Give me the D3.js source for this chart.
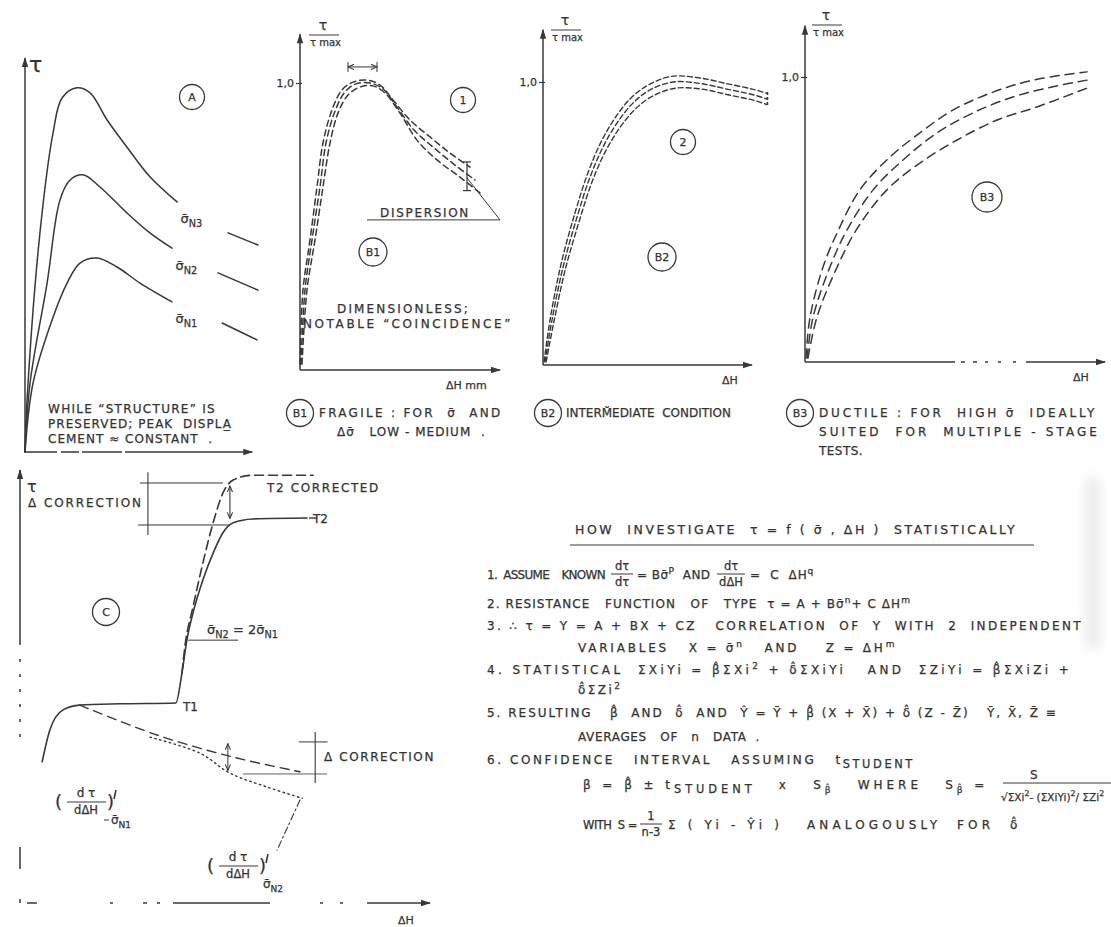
<!DOCTYPE html>
<html>
<head>
<meta charset="utf-8">
<script src="https://cdn.jsdelivr.net/npm/d3@7"></script>
<style>
  html, body { margin: 0; padding: 0; background: #fff; }
  svg { display: block; }
  text { font-family: "DejaVu Sans", "Liberation Sans", sans-serif; fill: #333; stroke: #333; stroke-width: 0.25px; white-space: pre; }
</style>
</head>
<body>
<script>
// ---------------- data ----------------
// Panel A: shear stress τ against displacement ΔH for three normal stresses
const aSigmaN3 = [[0,0],[0.9,13.3],[6.5,55.9],[12.2,81.4],[16.1,90.3],[22.6,92.9],[28.3,91.6],[35.7,84.7],[44.3,77.8],[54.3,70.2],[66.1,63.8]];
const aSigmaN2 = [[0,0],[2.2,17.6],[9.6,43.1],[15.2,64.3],[19.6,69.4],[25.2,70.7],[32.6,67.6],[44.3,61.0],[54.3,55.9],[63.9,52.0]];
const aSigmaN1 = [[0,0],[3.5,17.6],[12.2,34.4],[18.3,43.1],[23.9,48.2],[31.3,49.5],[40,47.2],[50,43.1],[63.9,38.3]];
const aTails = [
  [[88.3,55.9],[101.3,52.8]],
  [[83.9,45.7],[101.3,41.3]],
  [[85.7,32.9],[100.9,28.6]]
];
const aSeriesNames = ["N3", "N2", "N1"];

// Panel B1 (fragile): normalised τ/τmax against ΔH
const b1Upper = [[0,0.02],[1.5,0.279],[5,0.453],[8.5,0.638],[11.5,0.791],[16,0.906],[21,0.976],[26.5,1.003],[33.5,1.01],[40,0.993],[46.5,0.941],[55,0.871],[65,0.812],[75,0.756],[85,0.707]];
const b1Middle = [[0.5,0.02],[2.5,0.279],[6,0.453],[10,0.638],[13,0.791],[17.5,0.902],[22.5,0.969],[28,0.997],[35,1.0],[41.5,0.979],[48.5,0.916],[57,0.836],[67,0.774],[77.5,0.714],[87.5,0.662]];
const b1Lower = [[1,0.02],[3.5,0.279],[7.5,0.453],[11.5,0.638],[15,0.791],[19,0.895],[24,0.958],[30,0.986],[36.5,0.99],[42.5,0.965],[50,0.895],[58.5,0.801],[68.5,0.732],[80,0.672],[90,0.617]];

// Panel B2 (intermediate)
const b2Upper = [[0.5,0.011],[3.5,0.165],[8.6,0.355],[15.2,0.535],[21.4,0.677],[27.5,0.784],[34.2,0.87],[42,0.943],[50.5,0.99],[61.5,1.02],[74.5,1.015],[87.5,0.995],[100,0.975],[107.2,0.96]];
const b2Middle = [[1,0.011],[4.3,0.159],[9.6,0.346],[16.3,0.523],[22.5,0.664],[28.7,0.77],[35.4,0.855],[43.1,0.926],[51.2,0.972],[62.2,1.0],[75.1,0.995],[88,0.975],[100.5,0.955],[107.2,0.94]];
const b2Lower = [[1.5,0.011],[5.2,0.152],[10.6,0.336],[17.4,0.51],[23.6,0.65],[29.9,0.755],[36.7,0.838],[44.4,0.906],[52.4,0.95],[63.2,0.978],[75.8,0.975],[88.5,0.955],[101,0.935],[107.2,0.92]];

// Panel B3 (ductile)
const b3Upper = [[0.3,0.014],[1.7,0.158],[6,0.333],[10.7,0.453],[18.3,0.604],[28.3,0.719],[38.3,0.804],[49.3,0.884],[62.7,0.947],[76,0.989],[94,1.018]];
const b3Middle = [[0.7,0.014],[2.7,0.158],[8.3,0.333],[14,0.463],[22.7,0.604],[32.7,0.709],[44,0.804],[56,0.874],[69.3,0.93],[82.3,0.965],[94,0.989]];
const b3Lower = [[1,0.014],[4,0.158],[10.7,0.333],[17.3,0.467],[27.3,0.604],[38.3,0.698],[50.7,0.779],[64,0.849],[77.3,0.895],[94,0.961]];

const peakTick = [1.0];
const peakTickLabels = ["1,0"];

// Panel C: multiple-stage test, T1 -> T2, and the correction of stage T2
const cMeasured = [[5.4,32.6],[7.3,40.0],[10.5,44.6],[14.6,45.7],[24.4,46.0],[38.0,46.2],[39.5,53.1],[40.7,60.7],[42.2,67.0],[44.6,74.6],[47.1,80.8],[49.5,85.5],[52.0,87.8],[56.8,88.7],[70.0,88.9]];
const cCorrected = [[39.5,53.1],[40.2,59.1],[42.2,68.4],[44.6,78.5],[47.1,87.8],[49.5,94.7],[52.0,97.7],[56.8,98.8],[71.5,98.8]];
const cSlopeN1 = [[14.6,45.7],[33.4,38.8],[52.0,33.7],[68.3,30.3]];
const cSlopeN2 = [[31.7,38.3],[43.9,34.6],[51.2,30.0],[60.2,26.8],[68.8,24.2]];
const cSlopeN2Leader = [[68.3,23.8],[62.7,12.2]];

// Text of the captions and of the statistical procedure
const noteA = ["WHILE \u201CSTRUCTURE\u201D IS", "PRESERVED; PEAK  DISPLA\u0332", "CEMENT \u2248 CONSTANT  ."];
const captionB1 = ["FRAGILE : FOR  \u03C3\u0304  AND", "\u0394\u03C3\u0304   LOW - MEDIUM  ."];
const captionB2 = ["INTERM\u0306EDIATE  CONDITION"];
const captionB3 = ["DUCTILE : FOR  HIGH \u03C3\u0304  IDEALLY", "SUITED  FOR  MULTIPLE - STAGE", "TESTS."];
const methodTitle = "HOW  INVESTIGATE  \u03C4 = f ( \u03C3\u0304 , \u0394H )  STATISTICALLY";
const methodLines = [
  ["2. RESISTANCE   FUNCTION   OF   TYPE  \u03C4 = A + B\u03C3\u0304", {t:"n", s:"sup"}, "+ C \u0394H", {t:"m", s:"sup"}],
  ["3. \u2234 \u03C4 = Y = A + BX + CZ   CORRELATION  OF  Y  WITH  2  INDEPENDENT"],
  ["VARIABLES   X = \u03C3\u0304", {t:"n", s:"sup"}, "   AND    Z = \u0394H", {t:"m", s:"sup"}],
  ["4. STATISTICAL  \u03A3XiYi = \u03B2\u0302\u03A3Xi", {t:"2", s:"sup"}, " + \u03B4\u0302\u03A3XiYi   AND  \u03A3ZiYi = \u03B2\u0302\u03A3XiZi +"],
  ["\u03B4\u0302\u03A3Zi", {t:"2", s:"sup"}],
  ["5. RESULTING   \u03B2\u0302  AND  \u03B4\u0302  AND  Y\u0302 = Y\u0304 + \u03B2\u0302 (X + X\u0304) + \u03B4\u0302 (Z - Z\u0304)   Y\u0304, X\u0304, Z\u0304 \u2261"],
  ["AVERAGES   OF   n   DATA  ."],
  ["6. CONFIDENCE   INTERVAL   ASSUMING   t", {t:"STUDENT", s:"sub"}],
  ["\u03B2 = \u03B2\u0302 \u00B1 t", {t:"STUDENT", s:"sub"}, "   x   S", {t:"\u03B2\u0302", s:"sub"}, "   WHERE   S", {t:"\u03B2\u0302", s:"sub"}, " ="]
];

// ---------------- drawing ----------------
const ink = "#383838";
const FS = 12;
const svg = d3.select("body").append("svg").attr("width", 1111).attr("height", 927);
const defs = svg.append("defs");
defs.append("marker").attr("id", "arrow").attr("viewBox", "0 -4 10 8")
  .attr("refX", 9).attr("refY", 0).attr("markerWidth", 11).attr("markerHeight", 8)
  .attr("markerUnits", "userSpaceOnUse").attr("orient", "auto-start-reverse")
  .append("path").attr("d", "M0,-3.2L10,0L0,3.2Z").attr("fill", ink);
defs.append("marker").attr("id", "tip").attr("viewBox", "0 -4 8 8")
  .attr("refX", 7).attr("refY", 0).attr("markerWidth", 7).attr("markerHeight", 7)
  .attr("markerUnits", "userSpaceOnUse").attr("orient", "auto-start-reverse")
  .append("path").attr("d", "M0,-3L7,0L0,3").attr("fill", "none").attr("stroke", ink).attr("stroke-width", 1.2);
defs.append("filter").attr("id", "smudge").attr("x", "-50%").attr("y", "-50%").attr("width", "200%").attr("height", "200%")
  .append("feGaussianBlur").attr("stdDeviation", 6);

// faint scanner smudge at the right margin
svg.append("rect").attr("x", 1086).attr("y", 478).attr("width", 14).attr("height", 170)
  .attr("fill", "#d8d8d8").attr("opacity", 0.55).attr("filter", "url(#smudge)");

function curve(g, data, x, y, opts = {}) {
  return g.append("path").datum(data)
    .attr("d", d3.line().x(d => x(d[0])).y(d => y(d[1])).curve(opts.curve || d3.curveCatmullRom.alpha(0.5)))
    .attr("fill", "none").attr("stroke", ink).attr("stroke-width", opts.w || 1.6)
    .attr("stroke-dasharray", opts.dash || null).attr("stroke-linecap", "round").attr("stroke-linejoin", "round");
}
function seg(g, x1, y1, x2, y2, opts = {}) {
  return g.append("line").attr("x1", x1).attr("y1", y1).attr("x2", x2).attr("y2", y2)
    .attr("stroke", ink).attr("stroke-width", opts.w || 1.2)
    .attr("stroke-dasharray", opts.dash || null)
    .attr("marker-end", opts.end ? `url(#${opts.end})` : null)
    .attr("marker-start", opts.start ? `url(#${opts.start})` : null);
}
function rich(g, x, y, parts, size, anchor) {
  const t = g.append("text").attr("x", x).attr("y", y).attr("font-size", size)
    .attr("text-anchor", anchor || "start");
  let shift = 0;
  (Array.isArray(parts) ? parts : [parts]).forEach(p => {
    const part = typeof p === "string" ? {t: p, s: "n"} : p;
    const target = part.s === "sub" ? size * 0.3 : part.s === "sup" ? -size * 0.45 : 0;
    const fs = part.s === "n" ? size : part.s === "sub" && part.t.length > 3 ? size * 0.95 : size * 0.75;
    t.append("tspan").attr("dy", target - shift).attr("font-size", fs).text(part.t);
    shift = target;
  });
  return t;
}
function fit(t, width) {
  t.attr("letter-spacing", 0);
  const n = t.text().length;
  const w = t.node().getComputedTextLength();
  t.attr("letter-spacing", ((width - w) / Math.max(n, 1)).toFixed(2) + "px");
  return t;
}
function ring(g, cx, cy, r, label, size) {
  g.append("circle").attr("cx", cx).attr("cy", cy).attr("r", r)
    .attr("fill", "none").attr("stroke", ink).attr("stroke-width", 1.3);
  g.append("text").attr("x", cx).attr("y", cy + size * 0.36).attr("text-anchor", "middle")
    .attr("font-size", size).text(label);
}
function sigmaLabel(g, x, y, sub, size) {
  return rich(g, x, y, ["\u03C3\u0304", {t: sub, s: "sub"}], size);
}
// y axis with the 1,0 tick, x axis line and arrow heads
function frame(g, x, y, yTop, xEnd, ticks, xDash) {
  seg(g, x(0), y(0), x(0), y(yTop), {w: 1.5, end: "arrow"});
  seg(g, x(0), y(0), x(xEnd), y(0), {w: 1.5, end: "arrow", dash: xDash});
  if (ticks) {
    const ax = g.append("g").attr("transform", `translate(${x(0)},0)`)
      .call(d3.axisLeft(y).tickValues(peakTick).tickFormat((d, i) => peakTickLabels[i]).tickSize(4).tickPadding(2));
    ax.select(".domain").remove();
    ax.selectAll("line").attr("stroke", ink).attr("stroke-width", 1.2).attr("x2", 2).attr("x1", -4);
    ax.selectAll("text").attr("font-family", "DejaVu Sans, sans-serif").attr("font-size", 11).attr("fill", "#333").attr("x", -6);
  }
}
function ratioLabel(g, cx, top) {
  g.append("text").attr("x", cx).attr("y", top).attr("text-anchor", "middle").attr("font-size", 14).text("\u03C4");
  seg(g, cx - 14, top + 5, cx + 16, top + 5, {w: 1});
  rich(g, cx - 13, top + 16, ["\u03C4", {t: " max", s: "n"}], 10);
}

// ---------- Panel A ----------
const gA = svg.append("g");
const xA = d3.scaleLinear([0, 100], [25, 255]);
const yA = d3.scaleLinear([0, 100], [452, 60]);
frame(gA, xA, yA, 100.5, 98.8, false, "32,4,18,3,40,3,150");
gA.append("text").attr("x", 29).attr("y", 72).attr("font-size", 22).text("\u03C4");
[aSigmaN3, aSigmaN2, aSigmaN1].forEach((s, i) => {
  curve(gA, s, xA, yA, {w: 1.5});
  curve(gA, aTails[i], xA, yA, {w: 1.5, curve: d3.curveLinear});
  const last = s[s.length - 1];
  sigmaLabel(gA, xA(last[0] + 1.5), yA(last[1] - 5.5), aSeriesNames[i], 13);
});
ring(gA, 192, 97, 12.5, "A", 11);
noteA.forEach((line, i) => fit(gA.append("text").attr("x", 48).attr("y", 413 + i * 15).attr("font-size", FS).text(line), [168, 185, 165][i]));

// ---------- Panel B1 ----------
const gB1 = svg.append("g");
const xB1 = d3.scaleLinear([0, 100], [300, 500]);
const yB1 = d3.scaleLinear([0, 1], [370, 83]);
frame(gB1, xB1, yB1, 1.17, 100, true);
ratioLabel(gB1, 323, 30);
[b1Upper, b1Middle, b1Lower].forEach(s => curve(gB1, s, xB1, yB1, {w: 1.5, dash: "6,4"}));
// spread of the peak displacement
seg(gB1, xB1(24), yB1(1.056), xB1(38.5), yB1(1.056), {w: 1, start: "tip", end: "tip"});
seg(gB1, xB1(24), yB1(1.056) - 5, xB1(24), yB1(1.056) + 5, {w: 1});
seg(gB1, xB1(38.5), yB1(1.056) - 5, xB1(38.5), yB1(1.056) + 5, {w: 1});
// dispersion at large displacement
seg(gB1, xB1(83.5), yB1(0.725), xB1(83.5), yB1(0.625), {w: 1.2});
seg(gB1, xB1(81.5), yB1(0.725), xB1(85.5), yB1(0.725), {w: 1.2});
seg(gB1, xB1(81.5), yB1(0.625), xB1(85.5), yB1(0.625), {w: 1.2});
seg(gB1, xB1(33.5), yB1(0.523), xB1(100), yB1(0.523), {w: 1});
seg(gB1, xB1(100), yB1(0.523), xB1(83.5), yB1(0.669), {w: 1});
fit(gB1.append("text").attr("x", 380).attr("y", 217).attr("font-size", FS).text("DISPERSION"), 90);
ring(gB1, 463, 100, 12.5, "1", 11);
ring(gB1, 373, 252, 14, "B1", 11);
fit(gB1.append("text").attr("x", 337).attr("y", 313).attr("font-size", FS).text("DIMENSIONLESS;"), 133);
fit(gB1.append("text").attr("x", 303).attr("y", 328).attr("font-size", FS).text("NOTABLE \u201CCOINCIDENCE\u201D"), 210);
gB1.append("text").attr("x", 446).attr("y", 389).attr("font-size", 11).text("\u0394H mm");

// ---------- Panel B2 ----------
const gB2 = svg.append("g");
const xB2 = d3.scaleLinear([0, 100], [543, 752]);
const yB2 = d3.scaleLinear([0, 1], [365, 82]);
frame(gB2, xB2, yB2, 1.185, 100, true);
ratioLabel(gB2, 565, 25);
[b2Upper, b2Middle, b2Lower].forEach(s => curve(gB2, s, xB2, yB2, {w: 1.4, dash: "5,3"}));
seg(gB2, xB2(107.4), yB2(0.965), xB2(107.4), yB2(0.915), {w: 1.6, dash: "3,2"});
ring(gB2, 683, 142, 12.5, "2", 11);
ring(gB2, 662, 257, 14, "B2", 11);
gB2.append("text").attr("x", 722).attr("y", 384).attr("font-size", 11).text("\u0394H");

// ---------- Panel B3 ----------
const gB3 = svg.append("g");
const xB3 = d3.scaleLinear([0, 100], [805, 1105]);
const yB3 = d3.scaleLinear([0, 1], [362, 77]);
frame(gB3, xB3, yB3, 1.18, 100, true, "150,6,4,8,4,8,3,10,3,12,3,10,200");
ratioLabel(gB3, 826, 20);
[b3Upper, b3Middle, b3Lower].forEach(s => curve(gB3, s, xB3, yB3, {w: 1.5, dash: "9,6"}));
ring(gB3, 987, 197, 15, "B3", 11);
gB3.append("text").attr("x", 1073).attr("y", 381).attr("font-size", 11).text("\u0394H");

// ---------- captions under the B panels ----------
const gCap = svg.append("g");
ring(gCap, 300, 413, 13.5, "B1", 11);
fit(gCap.append("text").attr("x", 319).attr("y", 417).attr("font-size", FS).text(captionB1[0]), 186);
fit(gCap.append("text").attr("x", 337).attr("y", 436).attr("font-size", FS).text(captionB1[1]), 150);
ring(gCap, 548, 413, 13.5, "B2", 11);
fit(gCap.append("text").attr("x", 566).attr("y", 417).attr("font-size", FS).text(captionB2[0]), 165);
ring(gCap, 800, 413, 13.5, "B3", 11);
captionB3.forEach((line, i) => {
  const t = gCap.append("text").attr("x", 819).attr("y", 417 + i * 19).attr("font-size", FS).text(line);
  if (i < 2) fit(t, 281); else fit(t, 44);
});

// ---------- Panel C ----------
const gC = svg.append("g");
const xC = d3.scaleLinear([0, 100], [20, 430]);
const yC = d3.scaleLinear([0, 100], [903, 470]);
gC.append("path").attr("d", `M${xC(0)},${yC(100)}V${yC(0)}`).attr("stroke", ink).attr("stroke-width", 1.5)
  .attr("fill", "none").attr("stroke-dasharray", "175,14,3,12,3,12,3,12,3,12,3,12,3,110,22,30")
  .attr("marker-start", "url(#arrow)");
gC.append("path").attr("d", `M${xC(1.7)},${yC(0)}H${xC(100)}`).attr("stroke", ink).attr("stroke-width", 1.4)
  .attr("fill", "none").attr("stroke-dasharray", "10,73,3,30,4,10,3,13,97,50,3,17,3,24,70,10")
  .attr("marker-end", "url(#arrow)");
gC.append("text").attr("x", 27).attr("y", 492).attr("font-size", 16).text("\u03C4");
fit(gC.append("text").attr("x", 28).attr("y", 507).attr("font-size", FS).text("\u0394 CORRECTION"), 115);
gC.append("text").attr("x", 398).attr("y", 924).attr("font-size", 11).text("\u0394H");

curve(gC, cMeasured, xC, yC, {w: 1.6, curve: d3.curveMonotoneX});
curve(gC, cCorrected, xC, yC, {w: 1.6, dash: "9,5", curve: d3.curveMonotoneX});
curve(gC, cSlopeN1, xC, yC, {w: 1.4, dash: "9,6"});
curve(gC, cSlopeN2, xC, yC, {w: 1.4, dash: "1.5,3.5"});
curve(gC, cSlopeN2Leader, xC, yC, {w: 1.1, dash: "7,3,2,3", curve: d3.curveLinear});

// correction of the second stage
seg(gC, xC(31.2), yC(99.5), xC(31.2), yC(85.0), {w: 1.1});
seg(gC, xC(29.3), yC(97.0), xC(49.5), yC(97.0), {w: 1});
seg(gC, xC(28.8), yC(87.3), xC(51.2), yC(87.3), {w: 1});
seg(gC, xC(51.2), yC(88.8), xC(51.2), yC(96.3), {w: 1.1, start: "tip", end: "tip"});
fit(gC.append("text").attr("x", 267).attr("y", 492).attr("font-size", FS).text("T2 CORRECTED"), 113);
seg(gC, xC(70.5), yC(88.9), xC(72.5), yC(88.9), {w: 1.4});
gC.append("text").attr("x", 313).attr("y", 523).attr("font-size", FS).text("T2");
gC.append("text").attr("x", 183).attr("y", 711).attr("font-size", FS).text("T1");
seg(gC, xC(41.0), yC(60.7), xC(53.2), yC(60.7), {w: 1});
rich(gC, 207, 634, ["\u03C3\u0304", {t: "N2", s: "sub"}, " = 2\u03C3\u0304", {t: "N1", s: "sub"}], 13);
ring(gC, 106, 612, 13.5, "C", 11);

// correction of the stage slopes
seg(gC, xC(72.0), yC(39.5), xC(72.0), yC(27.7), {w: 1.1});
seg(gC, xC(68.0), yC(37.2), xC(75.0), yC(37.2), {w: 1});
seg(gC, xC(54.4), yC(29.8), xC(74.9), yC(29.8), {w: 0.8});
seg(gC, xC(50.7), yC(30.6), xC(50.7), yC(36.8), {w: 1, start: "tip", end: "tip"});
fit(gC.append("text").attr("x", 324).attr("y", 761).attr("font-size", FS).text("\u0394 CORRECTION"), 111);

// slope labels (dτ/dΔH)'
function slopeLabel(g, x0, y0, sub) {
  g.append("text").attr("x", x0).attr("y", y0 + 6).attr("font-size", 18).text("(");
  g.append("text").attr("x", x0 + 31).attr("y", y0 - 5).attr("text-anchor", "middle").attr("font-size", 12).text("d \u03C4");
  seg(g, x0 + 12, y0, x0 + 51, y0, {w: 1});
  g.append("text").attr("x", x0 + 31).attr("y", y0 + 12).attr("text-anchor", "middle").attr("font-size", 11.5).text("d\u0394H");
  g.append("text").attr("x", x0 + 52).attr("y", y0 + 6).attr("font-size", 18).text(")");
  seg(g, x0 + 61, y0 - 12, x0 + 59, y0 - 3, {w: 1.6});
  sigmaLabel(g, x0 + 56, y0 + 22, sub, 12);
}
slopeLabel(gC, 55, 802, "N1");
seg(gC, 104, 820, 109, 820, {w: 1});
slopeLabel(gC, 207, 866, "N2");

// ---------- statistical procedure ----------
const gM = svg.append("g");
fit(gM.append("text").attr("x", 575).attr("y", 534).attr("font-size", 12.5).text(methodTitle), 445);
seg(gM, 570, 545, 1034, 545, {w: 1.2});

// item 1 with the two derivative fractions
fit(gM.append("text").attr("x", 487).attr("y", 579).attr("font-size", FS).text("1.  ASSUME    KNOWN"), 118);
function fraction(g, cx, y, num, den, w) {
  g.append("text").attr("x", cx).attr("y", y - 4).attr("text-anchor", "middle").attr("font-size", 11.5).text(num);
  seg(g, cx - w / 2, y, cx + w / 2, y, {w: 1});
  g.append("text").attr("x", cx).attr("y", y + 12).attr("text-anchor", "middle").attr("font-size", 11.5).text(den);
}
fraction(gM, 622, 574, "d\u03C4", "d\u03C4", 22);
fit(rich(gM, 637, 579, ["= B\u03C3\u0304", {t: "P", s: "sup"}, "  AND"], FS), 74);
fraction(gM, 731, 574, "d\u03C4", "d\u0394H", 28);
fit(rich(gM, 750, 579, ["=  C  \u0394H", {t: "q", s: "sup"}], FS), 64);

const methodLayout = [[487, 608, 425], [487, 630, 596], [578, 652, 322], [487, 674, 595], [578, 694, 47],
  [487, 717, 593], [578, 741, 182], [487, 764, 428], [583, 789, 417]];
methodLines.forEach((parts, i) => {
  const [x, y, w] = methodLayout[i];
  fit(rich(gM, x, y, parts, FS), w);
});

// standard error of β̂
gM.append("text").attr("x", 1030).attr("y", 779).attr("font-size", FS).text("S");
seg(gM, 1003, 783, 1111, 783, {w: 1.2});
rich(gM, 1001, 801, ["\u221A\u03A3Xi", {t: "2", s: "sup"}, "- (\u03A3XiYi)", {t: "2", s: "sup"}, "/ \u03A3Zi", {t: "2", s: "sup"}], 10.5);

// last line, with 1/(n-3)
fit(gM.append("text").attr("x", 583).attr("y", 829).attr("font-size", 11.5).text("WITH  S ="), 54);
fraction(gM, 651, 824, "1", "n-3", 22);
fit(rich(gM, 668, 829, ["\u03A3 ( Yi - Y\u0302i )   ANALOGOUSLY  FOR  \u03B4\u0302"], FS), 362);
</script>
</body>
</html>
